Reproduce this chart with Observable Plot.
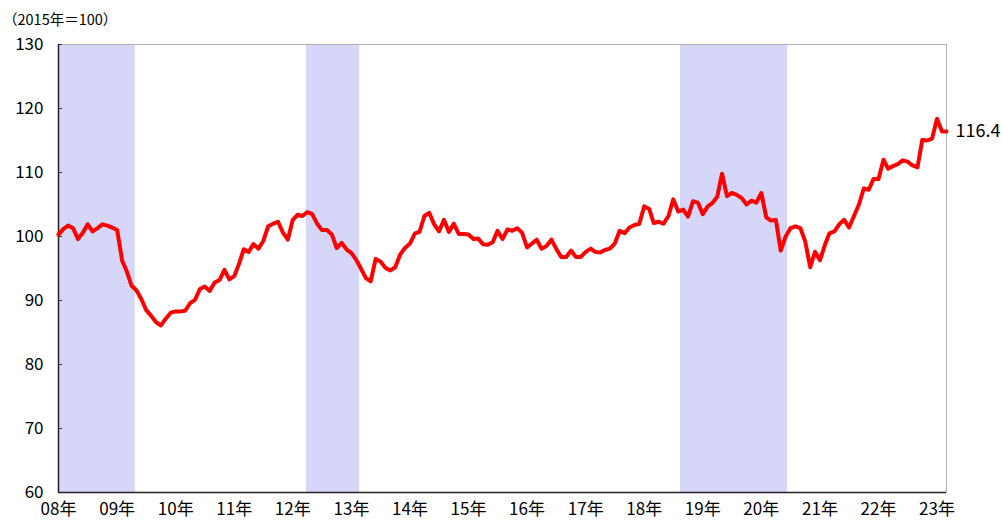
<!DOCTYPE html>
<html>
<head>
<meta charset="utf-8">
<script src="https://cdn.jsdelivr.net/npm/d3@7"></script>
<script src="https://cdn.jsdelivr.net/npm/@observablehq/plot@0.6"></script>
<style>
  html, body { margin: 0; padding: 0; background: #fff; }
  #wrap { position: relative; width: 1002px; height: 521px; font-family: "Noto Sans CJK JP", "Noto Sans", sans-serif; }
  #unit { position: absolute; left: 3px; top: 8px; font-size: 14.5px; color: #000; }
  #chart { position: absolute; left: 0; top: 0; }
</style>
</head>
<body>
<div id="wrap">
  <div id="chart"></div>
  <div id="unit">（2015年＝100）</div>
</div>
<script>
// Monthly index values, Jan 2008 .. Mar 2023 (2015 = 100)
const startMonth = "2008-01";
const values = [
  100.3, 101.2, 101.7, 101.3, 99.6, 100.6, 101.9, 100.8, 101.3, 101.9, 101.7, 101.4,
  101.0, 96.2, 94.6, 92.3, 91.6, 90.2, 88.5, 87.6, 86.6, 86.1, 87.2, 88.1,
  88.3, 88.3, 88.4, 89.6, 90.1, 91.8, 92.2, 91.5, 92.8, 93.2, 94.8, 93.3,
  93.8, 95.8, 98.0, 97.6, 98.8, 98.1, 99.3, 101.6, 102.0, 102.3, 100.6, 99.5,
  102.6, 103.4, 103.2, 103.8, 103.5, 102.0, 101.0, 101.0, 100.3, 98.2, 99.0, 98.0,
  97.4, 96.3, 95.0, 93.5, 93.0, 96.5, 96.1, 95.1, 94.7, 95.2, 97.2, 98.2,
  98.9, 100.5, 100.7, 103.2, 103.7, 101.9, 100.8, 102.6, 100.7, 102.0, 100.4, 100.4,
  100.3, 99.6, 99.7, 98.8, 98.7, 99.1, 100.9, 99.6, 101.1, 100.9, 101.3, 100.6,
  98.3, 98.9, 99.5, 98.1, 98.5, 99.5, 98.1, 96.8, 96.8, 97.8, 96.8, 96.8,
  97.6, 98.1, 97.6, 97.5, 97.9, 98.1, 98.9, 100.9, 100.5, 101.4, 101.8, 102.0,
  104.7, 104.3, 102.1, 102.3, 102.0, 103.2, 105.8, 103.9, 104.2, 103.1, 105.5, 105.3,
  103.5, 104.7, 105.2, 106.2, 109.8, 106.3, 106.8, 106.5, 106.0, 105.0, 105.6, 105.3,
  106.8, 103.0, 102.5, 102.6, 97.8, 100.0, 101.3, 101.6, 101.3, 99.2, 95.2, 97.6,
  96.3, 98.7, 100.5, 100.8, 101.9, 102.6, 101.4, 103.2, 105.0, 107.5, 107.3, 109.0,
  109.0, 112.0, 110.6, 111.0, 111.3, 111.9, 111.7, 111.1, 110.8, 115.1, 115.0, 115.3,
  118.4, 116.4, 116.4
];
// Shaded (recession) periods
const shadeStart = ["2008-01-01", "2012-03-26", "2018-08-15"];
const shadeEnd   = ["2009-04-24", "2013-02-21", "2020-06-13"];
// Axis ticks
const yTicks = [60, 70, 80, 90, 100, 110, 120, 130];
const xTickYears = d3.range(2008, 2024);
const lastLabel = "116.4";

const t0 = new Date(startMonth + "-01T00:00:00Z");
const data = values.map((v, i) => ({date: d3.utcMonth.offset(t0, i), value: v}));
const shades = shadeStart.map((s, i) => ({x1: new Date(s + "T00:00:00Z"), x2: new Date(shadeEnd[i] + "T00:00:00Z")}));
const xTicks = xTickYears.map(y => new Date(Date.UTC(y, 0, 1)));
const last = data[data.length - 1];
const tickEnd = d3.utcDay.offset(t0, 25);

const chart = Plot.plot({
  width: 1002,
  height: 521,
  marginTop: 44,
  marginBottom: 29,
  marginLeft: 58,
  marginRight: 56,
  style: {fontFamily: '"Noto Sans CJK JP", "Noto Sans", sans-serif', background: "transparent", overflow: "visible"},
  x: {type: "utc", domain: [t0, last.date]},
  y: {domain: [60, 130]},
  marks: [
    Plot.rectY(shades, {x1: "x1", x2: "x2", y1: 60, y2: 130, fill: "#d6d6f9"}),
    Plot.frame({stroke: "#b0b0b0", strokeWidth: 1}),
    Plot.axisY(yTicks, {tickSize: 0, tickPadding: 15, fontSize: 17, fill: "#000", label: null}),
    Plot.ruleY(yTicks, {y: d => d, x1: t0, x2: tickEnd, stroke: "#333", strokeWidth: 1}),
    Plot.axisX(xTicks, {tickSize: 0, tickPadding: 10, fontSize: 17, fill: "#000", label: null,
      tickFormat: d => String(d.getUTCFullYear() % 100).padStart(2, "0") + "年"}),
    Plot.ruleX([t0], {stroke: "#222", strokeWidth: 1.5}),
    Plot.ruleY([60], {stroke: "#222", strokeWidth: 1.5}),
    Plot.line(data, {x: "date", y: "value", stroke: "#ff0000", strokeWidth: 4, strokeLinejoin: "round"}),
    Plot.text([last], {x: "date", y: "value", text: () => lastLabel, textAnchor: "start", dx: 9, fontSize: 18, fill: "#000"})
  ]
});
document.getElementById("chart").appendChild(chart);
</script>
</body>
</html>
